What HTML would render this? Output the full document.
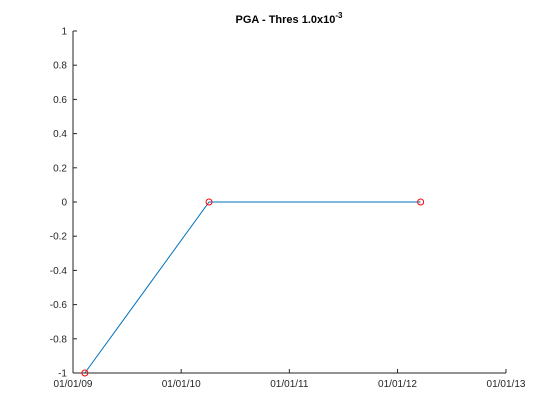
<!DOCTYPE html>
<html><head><meta charset="utf-8">
<style>
html,body{margin:0;padding:0;background:#fff;}
svg{display:block;font-family:"Liberation Sans",Helvetica,sans-serif;}
</style></head>
<body>
<svg id="chart" width="560" height="420" viewBox="0 0 560 420" xmlns="http://www.w3.org/2000/svg">
<text x="289" y="23" text-anchor="middle" font-size="11" font-weight="bold" fill="#000">PGA - Thres 1.0x10<tspan dy="-5" font-size="8">-3</tspan></text>
<g id="axes"></g>
<g id="series"></g>
</svg>
<script>
const pointDates = ["2009-02-10", "2010-04-05", "2012-03-19"];
const pointValues = [-1, 0, 0];
const xTickDates = ["2009-01-01", "2010-01-01", "2011-01-01", "2012-01-01", "2013-01-01"];
const xTickLabels = ["01/01/09", "01/01/10", "01/01/11", "01/01/12", "01/01/13"];
const yTicks = [-1, -0.8, -0.6, -0.4, -0.2, 0, 0.2, 0.4, 0.6, 0.8, 1];
const yTickLabels = ["-1", "-0.8", "-0.6", "-0.4", "-0.2", "0", "0.2", "0.4", "0.6", "0.8", "1"];

const NS = "http://www.w3.org/2000/svg";
const L = 73, R = 506, T = 31, B = 373;
const t0 = Date.parse("2009-01-01"), t1 = Date.parse("2013-01-01");
function xs(d){ return L + (Date.parse(d) - t0) / (t1 - t0) * (R - L); }
function ys(v){ return B - (v + 1) / 2 * (B - T); }
function mk(tag, attrs, parent){ const e = document.createElementNS(NS, tag); for (const k in attrs) e.setAttribute(k, attrs[k]); parent.appendChild(e); return e; }

const axes = document.getElementById("axes");
const yAxis = mk("line", {x1:L, y1:T, x2:L, y2:B, stroke:"#262626", "stroke-width":1}, axes);


const xAxis = mk("line", {x1:L, y1:B, x2:R, y2:B, stroke:"#262626", "stroke-width":1}, axes);



yTicks.forEach((v, i) => {
  const y = ys(v);
  const t = mk("line", {x1:L, y1:y, x2:L+4, y2:y, stroke:"#262626"}, axes);
  
  
  const lb = mk("text", {x:L-6, y:y+3.5, "text-anchor":"end", "font-size":10, fill:"#262626"}, axes);
  lb.textContent = yTickLabels[i];
  
  
});
xTickDates.forEach((d, i) => {
  const x = xs(d);
  const t = mk("line", {x1:x, y1:B, x2:x, y2:B-4, stroke:"#262626"}, axes);
  
  
  const lb = mk("text", {x:x, y:B+14, "text-anchor":"middle", "font-size":10, fill:"#262626"}, axes);
  lb.textContent = xTickLabels[i];
  
  
});

const series = document.getElementById("series");
const pts = pointDates.map((d, i) => xs(d) + "," + ys(pointValues[i])).join(" ");
const line = mk("polyline", {points:pts, fill:"none", stroke:"#0072BD", "stroke-width":1}, series);


pointDates.forEach((d, i) => {
  const c = mk("circle", {cx:xs(d), cy:ys(pointValues[i]), r:3, fill:"none", stroke:"#FF0000", "stroke-width":1}, series);
  
  
});
</script>
</body></html>
